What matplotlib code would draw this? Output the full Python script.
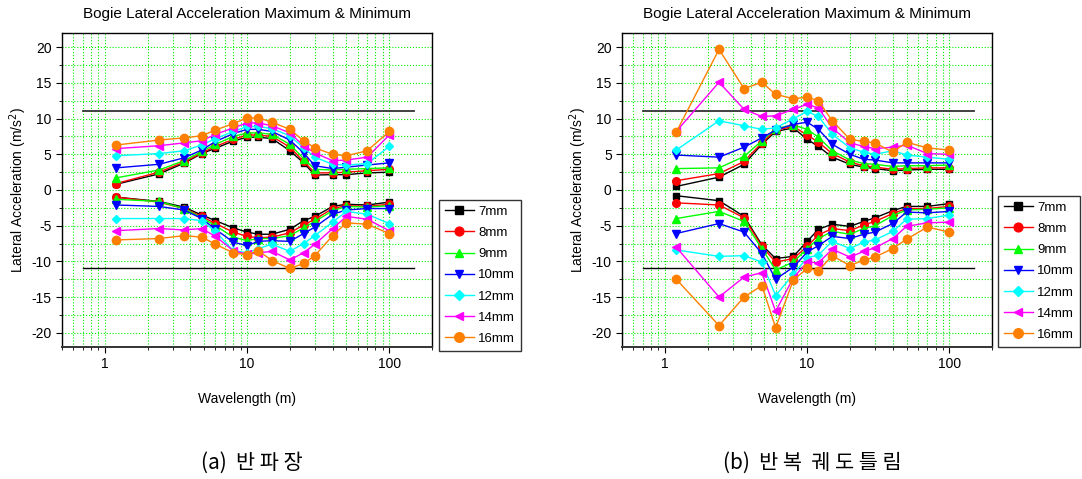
import numpy as np
import matplotlib
matplotlib.use("Agg")
import matplotlib.pyplot as plt
from matplotlib.ticker import LogLocator, MultipleLocator, NullFormatter, FixedLocator, FixedFormatter

plt.rcParams['font.family'] = ['Liberation Sans', 'DejaVu Sans']
plt.rcParams['axes.unicode_minus'] = False

wavelength = [1.2, 2.4, 3.6, 4.8, 6, 8, 10, 12, 15, 20, 25, 30, 40, 50, 70, 100]
labels = ['7mm', '8mm', '9mm', '10mm', '12mm', '14mm', '16mm']

# (a) half wavelength
a_max = {
    '7mm':  [0.8, 2.25, 3.75, 5.1, 5.85, 6.85, 7.4, 7.4, 7.2, 5.5, 3.8, 2.1, 2.15, 2.15, 2.4, 2.5],
    '8mm':  [0.9, 2.5, 3.9, 5.2, 6.1, 7.1, 7.7, 7.7, 7.5, 6.0, 4.0, 2.4, 2.4, 2.5, 2.7, 2.9],
    '9mm':  [1.7, 2.8, 4.1, 5.4, 6.4, 7.5, 8.0, 8.0, 7.8, 6.4, 4.4, 2.9, 2.8, 2.9, 3.0, 3.1],
    '10mm': [3.1, 3.6, 4.5, 5.6, 6.8, 7.9, 8.5, 8.5, 8.2, 7.0, 5.2, 3.4, 3.0, 3.2, 3.5, 3.8],
    '12mm': [4.8, 5.1, 5.5, 6.3, 7.2, 8.2, 8.9, 8.9, 8.6, 7.6, 5.9, 4.6, 3.6, 3.5, 3.7, 6.1],
    '14mm': [5.8, 6.2, 6.6, 6.9, 7.8, 8.7, 9.4, 9.4, 9.0, 8.0, 6.2, 5.2, 4.1, 4.2, 4.6, 7.7],
    '16mm': [6.3, 7.0, 7.3, 7.6, 8.4, 9.3, 10.1, 10.1, 9.5, 8.5, 6.9, 5.9, 5.0, 4.8, 5.5, 8.2],
}
a_min = {
    '7mm':  [-1.0, -1.6, -2.4, -3.5, -4.3, -5.3, -5.9, -6.2, -6.2, -5.5, -4.3, -3.7, -2.3, -2.0, -2.1, -1.7],
    '8mm':  [-1.0, -1.7, -2.6, -3.7, -4.7, -5.9, -6.5, -6.7, -6.6, -6.0, -4.9, -4.1, -2.6, -2.2, -2.3, -2.0],
    '9mm':  [-1.3, -1.6, -2.6, -3.9, -5.0, -6.6, -7.1, -6.8, -6.8, -6.4, -5.3, -4.4, -2.9, -2.3, -2.4, -2.2],
    '10mm': [-2.1, -2.3, -2.8, -4.0, -5.5, -7.3, -7.8, -7.2, -7.1, -7.2, -6.1, -5.2, -3.4, -2.8, -2.6, -2.6],
    '12mm': [-4.0, -4.0, -4.0, -4.3, -5.8, -8.5, -8.8, -8.2, -7.6, -8.6, -7.5, -6.4, -4.5, -3.0, -3.4, -4.7],
    '14mm': [-5.7, -5.4, -5.6, -5.4, -6.5, -8.5, -9.0, -8.8, -8.6, -9.8, -8.8, -7.6, -5.4, -3.7, -4.1, -5.7],
    '16mm': [-7.0, -6.8, -6.4, -6.6, -7.6, -8.8, -9.1, -8.5, -9.9, -11.0, -10.3, -9.2, -6.4, -4.6, -4.8, -6.1],
}

# (b) repeated track irregularity
b_max = {
    '7mm':  [0.5, 1.8, 3.6, 6.4, 8.2, 8.7, 7.1, 6.1, 4.6, 3.6, 3.2, 3.0, 2.7, 2.8, 2.9, 2.9],
    '8mm':  [1.3, 2.3, 4.0, 6.6, 8.4, 8.9, 7.7, 6.7, 5.1, 3.9, 3.4, 3.2, 2.9, 3.0, 3.1, 3.1],
    '9mm':  [3.0, 3.1, 4.7, 6.9, 8.6, 9.1, 8.5, 7.4, 5.5, 4.2, 3.7, 3.6, 3.3, 3.4, 3.4, 3.5],
    '10mm': [4.9, 4.6, 6.0, 7.3, 8.4, 9.2, 9.5, 8.5, 6.4, 5.0, 4.3, 4.2, 3.8, 3.8, 3.8, 3.8],
    '12mm': [5.6, 9.7, 9.0, 8.5, 8.7, 10.0, 11.0, 10.3, 7.8, 5.9, 5.3, 5.0, 5.5, 4.9, 4.6, 4.3],
    '14mm': [8.2, 15.1, 11.3, 10.3, 10.4, 11.3, 12.0, 11.5, 8.7, 6.6, 6.1, 5.8, 6.0, 6.3, 5.1, 5.0],
    '16mm': [8.1, 19.7, 14.2, 15.1, 13.4, 12.8, 13.0, 12.5, 9.7, 7.1, 6.8, 6.6, 5.3, 6.7, 5.9, 5.6],
}
b_min = {
    '7mm':  [-0.8, -1.5, -3.7, -7.7, -9.6, -9.3, -7.2, -5.5, -4.8, -5.1, -4.4, -3.9, -2.9, -2.3, -2.3, -1.9],
    '8mm':  [-1.8, -2.1, -3.9, -7.9, -10.1, -9.6, -7.9, -6.3, -5.4, -5.7, -4.9, -4.4, -3.3, -2.6, -2.6, -2.3],
    '9mm':  [-4.0, -3.0, -4.4, -8.2, -11.2, -10.1, -8.2, -6.8, -5.8, -6.2, -5.4, -5.0, -3.6, -2.8, -2.7, -2.5],
    '10mm': [-6.1, -4.7, -5.9, -8.9, -12.5, -10.8, -8.7, -7.8, -6.5, -6.8, -6.2, -5.9, -4.7, -3.1, -3.2, -3.0],
    '12mm': [-8.4, -9.3, -9.2, -10.1, -14.8, -11.8, -9.5, -9.1, -7.2, -8.2, -7.3, -7.0, -5.8, -4.1, -4.0, -3.5],
    '14mm': [-8.0, -15.0, -12.2, -11.6, -17.0, -12.3, -10.1, -10.2, -8.3, -9.4, -8.6, -8.1, -6.8, -5.1, -4.6, -4.5],
    '16mm': [-12.5, -19.0, -15.0, -13.4, -19.3, -12.6, -11.0, -11.3, -9.2, -10.6, -9.8, -9.4, -8.2, -6.9, -5.2, -5.9],
}

limit = 11
limit_span = [0.7, 150]

colors = {'7mm': 'black', '8mm': 'red', '9mm': '#00ff00', '10mm': 'blue',
          '12mm': 'cyan', '14mm': 'magenta', '16mm': '#ff8000'}
markers = {'7mm': 's', '8mm': 'o', '9mm': '^', '10mm': 'v',
           '12mm': 'D', '14mm': '<', '16mm': 'o'}
msize = {'7mm': 5, '8mm': 5.5, '9mm': 5.5, '10mm': 5.5, '12mm': 4.5, '14mm': 5.5, '16mm': 6}


def draw(fig, ax, maxs, mins, leg_anchor):
    ax.plot(limit_span, [limit, limit], color='#333333', lw=1.3)
    ax.plot(limit_span, [-limit, -limit], color='black', lw=1.0)
    handles = []
    for key in labels:
        h, = ax.plot(wavelength, maxs[key], color=colors[key], marker=markers[key],
                     ms=msize[key], lw=1.0, label=key)
        ax.plot(wavelength, mins[key], color=colors[key], marker=markers[key],
                ms=msize[key], lw=1.0)
        handles.append(h)
    ax.set_xscale('log')
    ax.set_xlim(0.5, 200)
    ax.set_ylim(-22, 22)
    ax.xaxis.set_major_locator(FixedLocator([1, 10, 100]))
    ax.xaxis.set_major_formatter(FixedFormatter(['1', '10', '100']))
    ax.xaxis.set_minor_locator(LogLocator(base=10, subs=np.arange(2, 10), numticks=20))
    ax.xaxis.set_minor_formatter(NullFormatter())
    ax.yaxis.set_major_locator(MultipleLocator(5))
    ax.yaxis.set_minor_locator(MultipleLocator(2.5))
    ax.grid(True, which='both', color='#00ee00', ls=':', lw=0.8)
    ax.set_axisbelow(True)
    ax.tick_params(which='both', direction='out', labelsize=10)
    ax.tick_params(which='major', length=4)
    ax.tick_params(which='minor', length=2.5)
    for s in ax.spines.values():
        s.set_linewidth(1.0)
    ax.spines['bottom'].set_linewidth(1.4)
    ax.spines['bottom'].set_color('#333333')
    ax.set_title('Bogie Lateral Acceleration Maximum & Minimum', fontsize=11, pad=11)
    ax.set_xlabel('Wavelength (m)', fontsize=10, labelpad=15)
    ax.set_ylabel('Lateral Acceleration (m/s$^2$)', fontsize=10, labelpad=2)
    fig.legend(handles=handles, loc='lower left', bbox_to_anchor=leg_anchor,
               fontsize=9.5, frameon=True, fancybox=False, edgecolor='black',
               handlelength=2.2, labelspacing=0.68, borderpad=0.45,
               handletextpad=0.3, borderaxespad=0, markerscale=1.15)


fig = plt.figure(figsize=(10.82, 4.79), dpi=100)
ax1 = fig.add_axes([0.0573, 0.2756, 0.342, 0.6555])
ax2 = fig.add_axes([0.575, 0.2756, 0.342, 0.6555])

draw(fig, ax1, a_max, a_min, (439 / 1082, 128 / 479))
draw(fig, ax2, b_max, b_min, (998 / 1082, 132 / 479))

cap_font = ['Noto Sans CJK KR', 'DejaVu Sans']
fig.text(252 / 1082, 1 - 463 / 479, '(a)  반 파 장', ha='center', va='center',
         fontsize=15, family=cap_font)
fig.text(812 / 1082, 1 - 463 / 479, '(b)  반 복  궤 도 틀 림', ha='center', va='center',
         fontsize=15, family=cap_font)

fig.savefig('out.png', dpi=100)
